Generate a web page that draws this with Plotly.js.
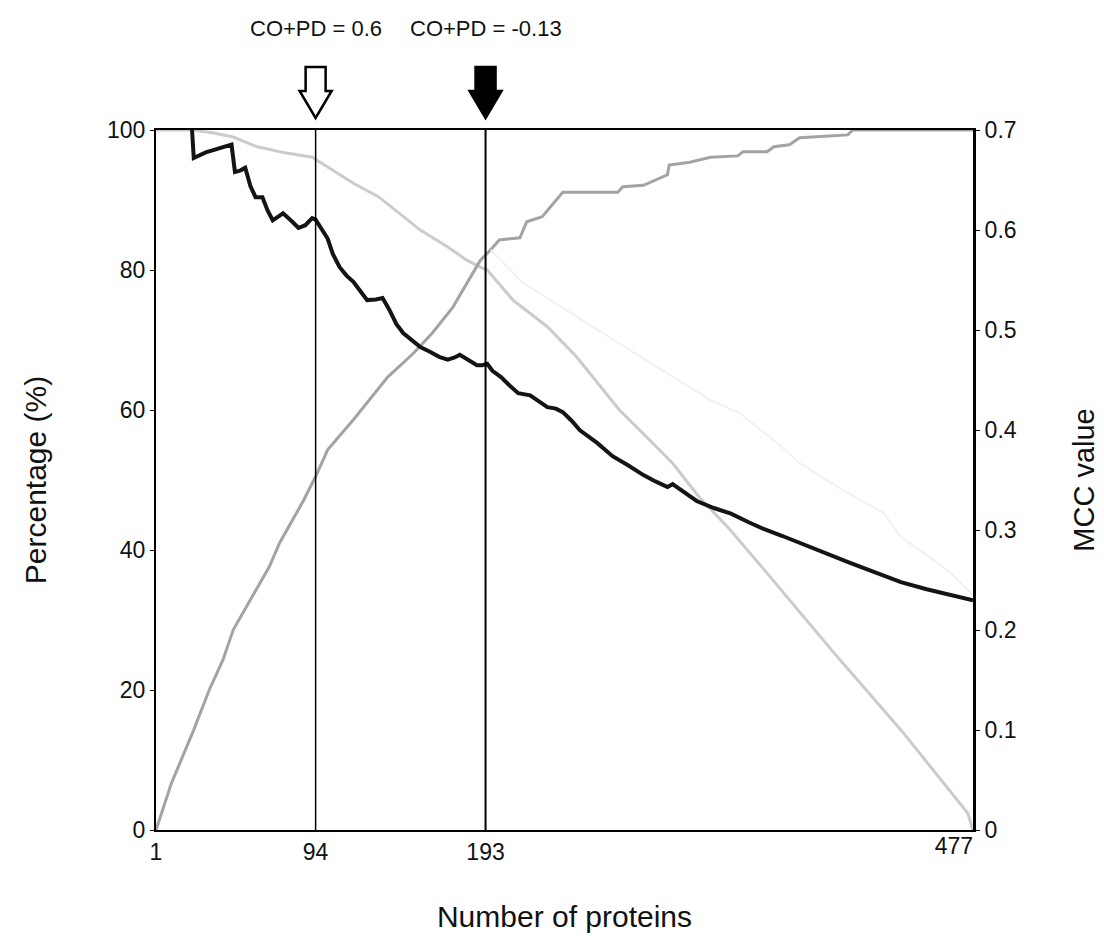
<!DOCTYPE html>
<html>
<head>
<meta charset="utf-8">
<script src="https://cdn.plot.ly/plotly-3.0.1.min.js"></script>
<style>
  html, body { margin: 0; padding: 0; background: #ffffff; }
  #chart { width: 1104px; height: 946px; }
</style>
</head>
<body>
<div id="chart"></div>
<script>
// ---- Data ----
// Black line: percentage
const blackX = [22, 23, 30, 38, 45, 47, 50, 53, 56, 59, 63, 66, 69, 72, 75, 80, 84, 88, 92, 94, 97, 101, 104, 108, 112, 116, 120, 124, 129, 133, 137, 141, 145, 150, 155, 160, 166, 171, 175, 178, 183, 188, 191, 194, 197, 202, 207, 212, 219, 224, 229, 234, 238, 243, 248, 258, 267, 276, 285, 292, 299, 302, 308, 316, 326, 336, 346, 355, 366, 376, 391, 405, 420, 435, 450, 463, 474, 477];
const blackY = [100, 96, 96.8, 97.4, 97.9, 94, 94.2, 94.6, 92, 90.4, 90.4, 88.5, 87.1, 87.6, 88.1, 87, 86, 86.4, 87.4, 87.2, 86, 84.5, 82.3, 80.4, 79.2, 78.3, 77, 75.7, 75.8, 76, 74.3, 72.3, 71, 70, 69, 68.4, 67.6, 67.2, 67.5, 67.9, 67.2, 66.4, 66.4, 66.6, 65.6, 64.7, 63.5, 62.4, 62.1, 61.3, 60.4, 60.2, 59.7, 58.5, 57.1, 55.3, 53.4, 52.1, 50.7, 49.8, 49, 49.4, 48.3, 47, 46, 45.2, 44, 43, 42, 41, 39.6, 38.2, 36.8, 35.4, 34.4, 33.6, 32.9, 32.8];

// Light grey line: percentage, falling
const fallX = [1, 22, 34, 46, 60, 77, 92, 104, 116, 131, 143, 155, 171, 182, 190, 194, 209, 229, 246, 258, 271, 287, 302, 318, 334, 357, 396, 435, 474, 477];
const fallY = [100, 100, 99.6, 99, 97.6, 96.7, 96.1, 94.3, 92.4, 90.4, 88.1, 85.7, 83.3, 81.4, 80.4, 80, 75.7, 71.9, 67.6, 63.9, 60, 56.1, 52.4, 47.4, 43.3, 36.7, 25.3, 14.3, 2.4, 0];

// Mid grey line: percentage, rising
const riseX = [1, 10, 23, 32, 40, 46, 56, 67, 73, 85, 87, 94, 101, 116, 136, 151, 162, 174, 186, 190, 196, 201, 213, 217, 226, 238, 270, 273, 285, 299, 300, 312, 324, 340, 343, 357, 361, 370, 376, 404, 407, 477];
const riseY = [0, 6.7, 14.3, 20, 24.3, 28.6, 32.9, 37.6, 41, 46.1, 47.1, 50.5, 54.3, 58.6, 64.7, 68.1, 71, 74.7, 79.6, 81.4, 82.9, 84.3, 84.6, 86.9, 87.6, 91.1, 91.1, 91.9, 92.1, 93.6, 95, 95.4, 96.1, 96.3, 96.9, 96.9, 97.6, 97.9, 98.9, 99.3, 100, 100];

// Faint line: MCC value (right axis)
const mccX = [196, 215, 277, 324, 341, 363, 376, 401, 425, 435, 454, 464, 477];
const mccY = [0.58, 0.547, 0.48, 0.43, 0.417, 0.387, 0.367, 0.34, 0.317, 0.293, 0.27, 0.257, 0.235];

// Axis ticks and markers
const xTicksMain = [1, 94, 193];
const xTickEnd = [477];
const yTicks = [0, 20, 40, 60, 80, 100];
const y2Ticks = [0, 0.1, 0.2, 0.3, 0.4, 0.5, 0.6, 0.7];
const markerX = [94, 193];
const markerLabels = ["CO+PD = 0.6", "CO+PD = -0.13"];
const markerFilled = [false, true];

// ---- Layout geometry ----
const W = 1104, H = 946;
const M = { l: 156, r: 131, t: 130, b: 116 };
const plotW = W - M.l - M.r, plotH = H - M.t - M.b;
const xMin = 1, xMax = 477;
const unitPerPx = (xMax - xMin) / plotW;
const pyPx = (py) => 1 + (M.t - py) / plotH; // pixel row above plot -> paper y

const FONT = "Liberation Sans, Arial, sans-serif";
const tickFont = { family: FONT, size: 23, color: "#111" };

const traces = [
  { x: fallX, y: fallY, mode: "lines", line: { color: "#cbcbcb", width: 3 }, xaxis: "x", yaxis: "y", hoverinfo: "skip" },
  { x: riseX, y: riseY, mode: "lines", line: { color: "#a3a3a3", width: 3 }, xaxis: "x", yaxis: "y", hoverinfo: "skip" },
  { x: mccX, y: mccY, mode: "lines", line: { color: "#f1f1f1", width: 2 }, xaxis: "x2", yaxis: "y2", hoverinfo: "skip" },
  { x: blackX, y: blackY, mode: "lines", line: { color: "#141414", width: 4 }, xaxis: "x", yaxis: "y", hoverinfo: "skip" }
];

const shapes = [];
const annotations = [];
markerX.forEach((mx, i) => {
  // vertical line through the plot
  shapes.push({ type: "line", xref: "x", yref: "paper", x0: mx, x1: mx, y0: 0, y1: 1,
    line: { color: "#000", width: i === 1 ? 2 : 1.5 }, layer: "above" });
  // arrow above the plot
  const hs = 10 * unitPerPx, hh = 16 * unitPerPx;
  const yTop = pyPx(67), yBase = pyPx(91), yTip = pyPx(118);
  const path = `M ${mx - hs},${yTop} L ${mx + hs},${yTop} L ${mx + hs},${yBase} L ${mx + hh},${yBase} L ${mx},${yTip} L ${mx - hh},${yBase} L ${mx - hs},${yBase} Z`;
  shapes.push({ type: "path", xref: "x", yref: "paper", path: path,
    fillcolor: markerFilled[i] ? "#000" : "#fff", line: { color: "#000", width: 2.5 } });
  annotations.push({ xref: "x", yref: "paper", x: mx, y: pyPx(28), xanchor: "center", yanchor: "middle",
    text: markerLabels[i], showarrow: false, font: { family: FONT, size: 22, color: "#111" } });
});

const layout = {
  width: W, height: H,
  margin: M,
  paper_bgcolor: "#fff", plot_bgcolor: "#fff",
  showlegend: false,
  xaxis: {
    range: [xMin, xMax], tickvals: xTicksMain, ticktext: xTicksMain.map(String),
    showgrid: false, zeroline: false, showline: true, linecolor: "#000", linewidth: 2, mirror: true,
    ticks: "", tickfont: tickFont,
    title: { text: "Number of proteins", font: { family: FONT, size: 30, color: "#111" }, standoff: 42 }
  },
  // second x axis (same scale) carrying only the end tick, its label set left of the tick as in the reference
  xaxis2: {
    overlaying: "x", side: "bottom", anchor: "y2",
    range: [xMin, xMax], tickvals: xTickEnd, ticktext: xTickEnd.map(String),
    ticklabelposition: "outside left",
    showgrid: false, zeroline: false, showline: false, ticks: "", tickfont: tickFont
  },
  yaxis: {
    range: [0, 100], tickvals: yTicks,
    showgrid: false, zeroline: false, showline: true, linecolor: "#000", linewidth: 2,
    ticks: "outside", ticklen: 4, tickcolor: "#000", tickfont: tickFont,
    title: { text: "Percentage (%)", font: { family: FONT, size: 30, color: "#111" }, standoff: 52 }
  },
  yaxis2: {
    range: [0, 0.7], tickvals: y2Ticks, ticktext: y2Ticks.map(v => v === 0 ? "0" : v.toFixed(1)),
    overlaying: "y", side: "right", anchor: "x",
    showgrid: false, zeroline: false, showline: true, linecolor: "#000", linewidth: 3,
    ticks: "outside", ticklen: 4, tickcolor: "#000", tickfont: tickFont,
    title: { text: "MCC value", font: { family: FONT, size: 29, color: "#111" }, standoff: 58 }
  },
  shapes: shapes,
  annotations: annotations
};

Plotly.newPlot("chart", traces, layout, { staticPlot: true, displayModeBar: false });
</script>
</body>
</html>
